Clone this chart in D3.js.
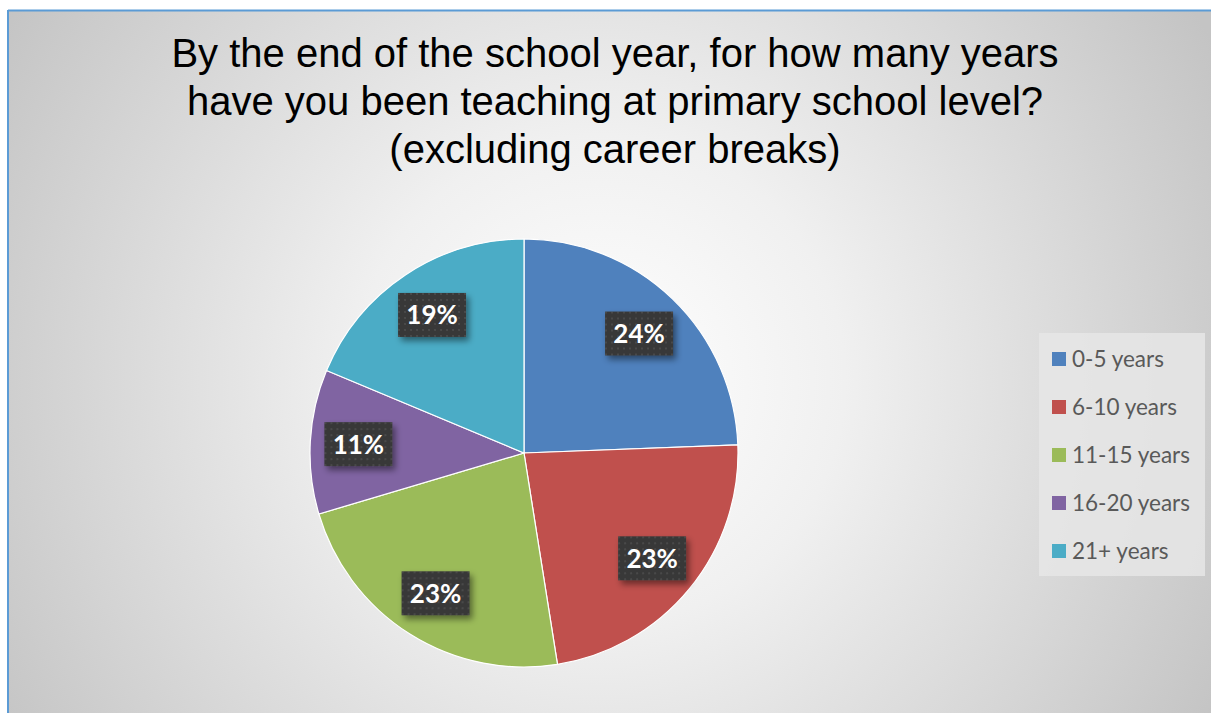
<!DOCTYPE html>
<html><head><meta charset="utf-8">
<script src="https://cdn.jsdelivr.net/npm/d3@7"></script>
<style>html,body{margin:0;padding:0;background:#fff;overflow:hidden}</style>
</head><body>
<svg id="c" width="1211" height="713"></svg>
<script>
const categories = ["0-5 years","6-10 years","11-15 years","16-20 years","21+ years"];
const values = [24.4, 23.1, 22.9, 10.9, 18.7];
const labels = ["24%","23%","23%","11%","19%"];
const colors = ["#4f81bd","#c0504d","#9bbb59","#8064a2","#4bacc6"];
const titleLines = ["By the end of the school year, for how many years","have you been teaching at primary school level?","(excluding career breaks)"];

const svg = d3.select("#c");
const defs = svg.append("defs");
const rg = defs.append("radialGradient").attr("id","bg").attr("gradientUnits","userSpaceOnUse")
  .attr("cx",600).attr("cy",380).attr("r",700);
rg.append("stop").attr("offset","0").attr("stop-color","#ffffff");
rg.append("stop").attr("offset","0.35").attr("stop-color","#f0f0f0");
rg.append("stop").attr("offset","1").attr("stop-color","#c4c4c4");
const pat = defs.append("pattern").attr("id","dots").attr("patternUnits","userSpaceOnUse").attr("width",6).attr("height",6);
pat.append("rect").attr("width",6).attr("height",6).attr("fill","#383838");
pat.append("circle").attr("cx",3).attr("cy",3).attr("r",1).attr("fill","#4e4e4e");
const f = defs.append("filter").attr("id","sh").attr("x","-30%").attr("y","-30%").attr("width","170%").attr("height","170%");
f.append("feDropShadow").attr("dx",3).attr("dy",4).attr("stdDeviation",3).attr("flood-color","#000").attr("flood-opacity",0.45);

// frame
svg.append("rect").attr("x",8).attr("y",10).attr("width",1203).attr("height",703).attr("fill","url(#bg)");
svg.append("line").attr("x1",8).attr("x2",1211).attr("y1",10.5).attr("y2",10.5).attr("stroke","#5b9bd5").attr("stroke-width",2);
svg.append("line").attr("x1",8).attr("x2",8).attr("y1",10).attr("y2",713).attr("stroke","#5b9bd5").attr("stroke-width",2);

// title
svg.append("g").selectAll("text").data(titleLines).join("text")
  .attr("x",615).attr("y",(d,i)=>67+i*48)
  .attr("text-anchor","middle").attr("font-family","Liberation Sans, Arial, sans-serif")
  .attr("font-size",40).attr("fill","#000").text(d=>d);

// pie
const cx=524, cy=453, R=214;
const pie = d3.pie().sort(null).value(d=>d)(values);
const arc = d3.arc().innerRadius(0).outerRadius(R);
const labelArc = d3.arc().innerRadius(R*0.775).outerRadius(R*0.775);
const g = svg.append("g").attr("transform",`translate(${cx},${cy})`);
g.selectAll("path").data(pie).join("path").attr("d",arc).attr("fill",(d,i)=>colors[i])
  .attr("stroke","#fff").attr("stroke-width",1.2);

const lg = g.selectAll("g.lbl").data(pie).join("g").attr("class","lbl")
  .attr("transform",d=>`translate(${labelArc.centroid(d)})`);
lg.append("rect").attr("x",-34).attr("y",-22).attr("width",68).attr("height",44)
  .attr("fill","url(#dots)").attr("filter","url(#sh)");
lg.append("text").attr("text-anchor","middle").attr("dy","0.36em")
  .attr("font-family","Lato, Open Sans, sans-serif").attr("font-weight","bold")
  .attr("font-size",26).attr("fill","#fff").text((d,i)=>labels[i]);

// legend
const leg = svg.append("g");
leg.append("rect").attr("x",1039).attr("y",333).attr("width",166).attr("height",243)
  .attr("fill","#e6e6e6").attr("opacity",0.85);
const li = leg.selectAll("g.it").data(categories).join("g").attr("class","it")
  .attr("transform",(d,i)=>`translate(1052,${359+i*48})`);
li.append("rect").attr("x",0).attr("y",-7).attr("width",14).attr("height",14).attr("fill",(d,i)=>colors[i]);
li.append("text").attr("x",20).attr("dy","0.36em").attr("font-family","Lato, sans-serif")
  .attr("font-size",22.5).attr("fill","#595959").text(d=>d);
</script>
</body></html>
